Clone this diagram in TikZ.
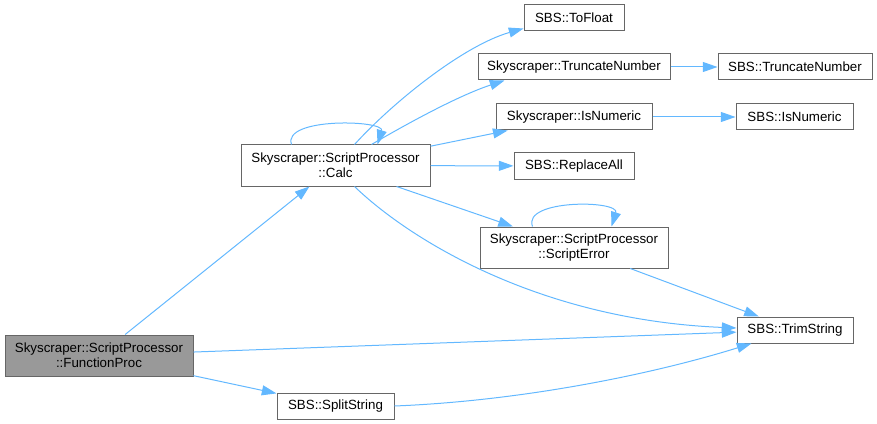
\documentclass[tikz,border=0pt]{standalone}
\usepackage{fontspec}
\setmainfont{Liberation Sans}
\usepackage{xcolor}
\usepackage{tikz}
\usetikzlibrary{positioning, calc, arrows.meta, shapes}
\definecolor{edgeblue}{HTML}{63B8FF}
\definecolor{boxgray}{HTML}{666666}
\definecolor{mainfill}{HTML}{999999}

\begin{document}
\begin{tikzpicture}[x=0.75pt, y=-0.75pt, every node/.style={transform shape}]
	\useasboundingbox (0,0) rectangle (877,424);
	
	\tikzstyle{func}=[draw=boxgray, line width=0.75pt, inner sep=0pt, minimum height=19.5pt, fill=white, text=black, align=center, font=\fontsize{10}{11.25}\selectfont]
	
	\tikzstyle{functall}=[func, minimum height=30.75pt]
	
	\tikzstyle{call}=[draw=edgeblue, line width=0.75pt, -{Triangle[length=11pt, width=7.5pt]}]
	
	%% caller
	\node [functall, fill=mainfill, minimum width=141pt] (FunctionProc) at (99,355.5) {Skyscraper::ScriptProcessor\\::FunctionProc};
	
	\node [functall, minimum width=141.75pt] (Calc) at (335.5,165.5) {Skyscraper::ScriptProcessor\\::Calc};
	\node [func, minimum width=87.75pt] (SplitString) at (335.5,406) {SBS::SplitString};
	
	\node [func, minimum width=75pt] (ToFloat) at (574,18) {SBS::ToFloat};
	\node [func, minimum width=144pt] (TruncSky) at (574,67) {Skyscraper::TruncateNumber};
	\node [func, minimum width=115.5pt] (TruncSBS) at (795,67) {SBS::TruncateNumber};
	\node [func, minimum width=117pt] (IsNumSky) at (574,117) {Skyscraper::IsNumeric};
	\node [func, minimum width=87.75pt] (IsNumSBS) at (794.5,117) {SBS::IsNumeric};
	\node [func, minimum width=90pt] (ReplaceAll) at (574,166) {SBS::ReplaceAll};
	\node [functall, minimum width=141pt] (ScriptError) at (574,247.5) {Skyscraper::ScriptProcessor\\::ScriptError};
	\node [func, minimum width=87pt] (TrimString) at (795,330) {SBS::TrimString};
	
	%% edges
	\draw [call] (FunctionProc) -- (Calc);
	\draw [call] (FunctionProc) -- (TrimString);
	\draw [call] (FunctionProc) -- (SplitString);
	\draw [call] (SplitString.east) .. controls (520,401) and (650,375) .. ($(TrimString.south west)+(15,0)$);
	
	\draw [call] ($(Calc.north west)+(51,0)$) .. controls (282,117) and (385,120) .. ($(Calc.north west)+(137,0)$);
	\draw [call] ($(Calc.north west)+(114,0)$) .. controls (395,100) and (465,45) .. ($(ToFloat.south west)+(0,-3)$);
	\draw [call] ($(Calc.north west)+(131,0)$) .. controls (410,122) and (460,95) .. ($(TruncSky.south west)+(27,0)$);
	\draw [call] (Calc) -- (IsNumSky);
	\draw [call] (Calc) -- (ReplaceAll);
	\draw [call] (Calc) -- (ScriptError);
	\draw [call] ($(Calc.south west)+(114,0)$) .. controls (410,240) and (540,320) .. ($(TrimString.west)+(0,-2)$);
	
	\draw [call] (TruncSky) -- (TruncSBS);
	\draw [call] (IsNumSky) -- (IsNumSBS);
	
	\draw [call] ($(ScriptError.north west)+(53,0)$) .. controls (522,199) and (620,200) .. ($(ScriptError.north west)+(132,0)$);
	\draw [call] (ScriptError) -- (TrimString);
\end{tikzpicture}
\end{document}
